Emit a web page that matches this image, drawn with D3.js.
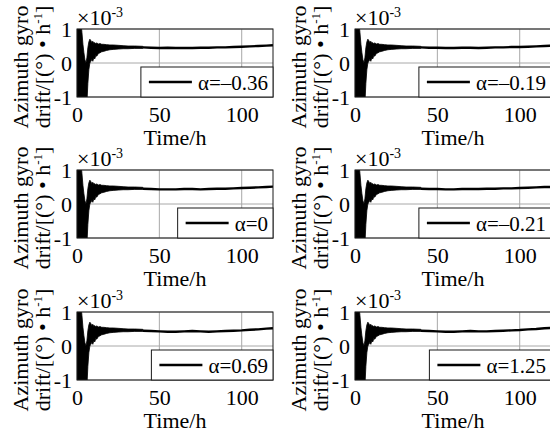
<!DOCTYPE html>
<html>
<head>
<meta charset="utf-8">
<script src="https://cdn.jsdelivr.net/npm/d3@7"></script>
<style>
  body { margin: 0; background: #fff; }
  svg { display: block; }
</style>
</head>
<body>
<svg id="chart" width="550" height="436"></svg>
<script>
// Start-up transient (0–40 h): upper / lower edge of the noise band, ×10^-3 (°)/h
const hoursEarly = [0, 0.6, 1.2, 1.8, 2.4, 3, 3.6, 4.2, 4.8, 5.4, 6, 6.6, 7.2, 7.8, 8.4, 9, 9.6, 10.2, 10.8, 11.4, 12, 13, 14, 15, 16, 18, 20, 22, 25, 28, 31, 35, 40];
const upperEarly = [1.3, 1.3, 1.3, 1.3, 1.2, 0.9, 0.55, 0.3, 0.1, 0.0, 0.15, 0.45, 0.62, 0.7, 0.66, 0.6, 0.64, 0.58, 0.6, 0.57, 0.59, 0.56, 0.57, 0.55, 0.55, 0.54, 0.53, 0.53, 0.52, 0.51, 0.5, 0.5, 0.49];
const lowerEarly = [-1.3, -1.3, -1.3, -1.3, -1.3, -1.3, -1.3, -1.3, -1.3, -1.3, -1.2, -0.6, -0.2, 0.0, 0.05, 0.1, 0.05, 0.15, 0.12, 0.22, 0.2, 0.28, 0.3, 0.33, 0.34, 0.37, 0.39, 0.4, 0.41, 0.42, 0.42, 0.43, 0.43];

// Settled drift (40–119 h), one series per α
const hoursLate = [40, 45, 50, 55, 60, 65, 70, 75, 80, 85, 90, 95, 100, 105, 110, 115, 119];
const driftA = [0.46, 0.45, 0.44, 0.45, 0.44, 0.44, 0.44, 0.45, 0.45, 0.46, 0.46, 0.47, 0.48, 0.49, 0.5, 0.51, 0.52];
const driftB = [0.46, 0.45, 0.45, 0.44, 0.44, 0.45, 0.45, 0.44, 0.45, 0.46, 0.46, 0.47, 0.47, 0.48, 0.49, 0.5, 0.51];
const driftC = [0.45, 0.44, 0.43, 0.43, 0.43, 0.44, 0.44, 0.43, 0.44, 0.45, 0.45, 0.46, 0.47, 0.48, 0.49, 0.5, 0.51];
const driftD = [0.45, 0.44, 0.44, 0.43, 0.43, 0.44, 0.44, 0.44, 0.45, 0.45, 0.46, 0.46, 0.47, 0.48, 0.49, 0.5, 0.5];
const driftE = [0.45, 0.44, 0.43, 0.42, 0.42, 0.43, 0.44, 0.43, 0.42, 0.43, 0.44, 0.45, 0.46, 0.48, 0.49, 0.51, 0.52];
const driftF = [0.45, 0.44, 0.43, 0.42, 0.42, 0.43, 0.44, 0.43, 0.43, 0.44, 0.45, 0.46, 0.47, 0.49, 0.5, 0.52, 0.53];

const alphaLabels = ["α=–0.36", "α=–0.19", "α=0", "α=–0.21", "α=0.69", "α=1.25"];
const lateSeries = [driftA, driftB, driftC, driftD, driftE, driftF];

const xTicks = [0, 50, 100];
const yTicks = [-1, 0, 1];
const yTickLabels = ["-1", "0", "1"];

// Panel layout: two columns, three rows
const colX = [77, 355];
const rowY = [29, 170, 312];
const W = 196, H = 68;
const FS = 22;
const FONT = '"Liberation Serif", "Times New Roman", "DejaVu Serif", serif';

const svg = d3.select("#chart").attr("font-family", FONT);

const x = d3.scaleLinear().domain([0, 119]).range([0, W]);
const y = d3.scaleLinear().domain([-1, 1]).range([H, 0]);

const band = d3.area()
  .x(d => x(d.t))
  .y0(d => y(d.lo))
  .y1(d => y(d.hi));
const trace = d3.line()
  .x(d => x(d.t))
  .y(d => y(d.v));

const early = hoursEarly.map((t, i) => ({ t, hi: upperEarly[i], lo: lowerEarly[i] }));

function txt(sel) {
  return sel.attr("font-family", FONT).attr("fill", "#000");
}

alphaLabels.forEach((label, k) => {
  const col = k % 2, row = Math.floor(k / 2);
  const g = svg.append("g").attr("transform", `translate(${colX[col]},${rowY[row]})`);
  const clipId = "clip" + k;
  g.append("clipPath").attr("id", clipId)
    .append("rect").attr("width", W).attr("height", H);

  // grid
  g.append("g").selectAll("line").data(xTicks).join("line")
    .attr("x1", d => x(d)).attr("x2", d => x(d))
    .attr("y1", 0).attr("y2", H)
    .attr("stroke", "#a8a8a8").attr("stroke-width", 1);
  g.append("g").selectAll("line").data(yTicks).join("line")
    .attr("x1", 0).attr("x2", W)
    .attr("y1", d => y(d)).attr("y2", d => y(d))
    .attr("stroke", "#a8a8a8").attr("stroke-width", 1);

  // data
  const plot = g.append("g").attr("clip-path", `url(#${clipId})`);
  plot.append("path").datum(early)
    .attr("d", band)
    .attr("fill", "#000").attr("stroke", "#000").attr("stroke-width", 0.8);
  const late = hoursLate.map((t, i) => ({ t, v: lateSeries[k][i] }));
  plot.append("path").datum(late)
    .attr("d", trace)
    .attr("fill", "none").attr("stroke", "#000").attr("stroke-width", 2.4)
    .attr("stroke-linejoin", "round");

  // frame
  g.append("rect").attr("width", W).attr("height", H)
    .attr("fill", "none").attr("stroke", "#1a1a1a").attr("stroke-width", 1);

  // axes
  const xAxis = d3.axisBottom(x).tickValues(xTicks).tickSize(0).tickPadding(0).tickFormat(d3.format("d"));
  const xa = g.append("g").attr("transform", `translate(0,${H})`).call(xAxis)
    .attr("font-family", FONT).attr("font-size", FS);
  xa.select(".domain").remove();
  txt(xa.selectAll("text")).attr("dy", null).attr("y", 25);

  const yAxis = d3.axisLeft(y).tickValues(yTicks).tickSize(0).tickPadding(5)
    .tickFormat((d, i) => yTickLabels[i]);
  const ya = g.append("g").call(yAxis).attr("font-family", FONT).attr("font-size", FS);
  ya.select(".domain").remove();
  txt(ya.selectAll("text"));

  // exponent
  const ex = txt(g.append("text")).attr("x", 0).attr("y", -4).attr("font-size", FS);
  ex.append("tspan").text("×10");
  ex.append("tspan").attr("font-size", 14).attr("dy", -8).text("-3");

  // axis titles
  txt(g.append("text")).attr("x", W / 2).attr("y", H + 48)
    .attr("text-anchor", "middle").attr("font-size", FS).text("Time/h");
  txt(g.append("text"))
    .attr("transform", `translate(-49,${H / 2 + 4}) rotate(-90)`)
    .attr("text-anchor", "middle").attr("font-size", FS).text("Azimuth gyro");
  const yl2 = txt(g.append("text"))
    .attr("transform", `translate(-27,${H / 2 + 4}) rotate(-90)`)
    .attr("text-anchor", "middle").attr("font-size", FS);
  yl2.append("tspan").text("drift/[(°) • h");
  yl2.append("tspan").attr("font-size", 13).attr("dy", -8).text("-1");
  yl2.append("tspan").attr("dy", 8).text("]");

  // legend
  const lg = g.append("g");
  const box = lg.append("rect").attr("fill", "#fff").attr("stroke", "#1a1a1a").attr("stroke-width", 1);
  const lt = txt(lg.append("text")).attr("font-size", 21).attr("dominant-baseline", "central").text(label);
  const tw = lt.node().getComputedTextLength();
  const bw = tw + 62, bh = 30;
  const bx = W - bw, by = H - bh;
  box.attr("x", bx).attr("y", by).attr("width", bw).attr("height", bh);
  lg.append("line").attr("x1", bx + 8).attr("x2", bx + 51)
    .attr("y1", by + bh / 2).attr("y2", by + bh / 2)
    .attr("stroke", "#000").attr("stroke-width", 2.5);
  lt.attr("x", bx + 57).attr("y", by + bh / 2 + 1);
  lt.raise();
});
</script>
</body>
</html>
